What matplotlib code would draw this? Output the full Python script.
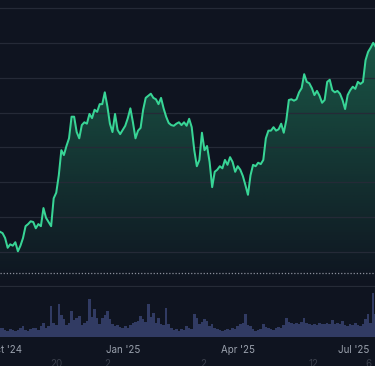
"""Price area chart with volume pane, dark theme."""
import matplotlib
matplotlib.use("Agg")
import matplotlib.pyplot as plt
import matplotlib.dates as mdates
import matplotlib.transforms as mtransforms
import numpy as np
import pandas as pd

# price sampled every 2 days from 2024-09-27
price = [0.229, 0.227, 0.220, 0.206, 0.211, 0.209, 0.214, 0.201, 0.209, 0.220,
         0.237, 0.240, 0.244, 0.243, 0.234, 0.240, 0.237, 0.263, 0.249, 0.243,
         0.237, 0.277, 0.285, 0.310, 0.346, 0.339, 0.352, 0.363, 0.394, 0.394,
         0.372, 0.363, 0.382, 0.386, 0.384, 0.398, 0.392, 0.404, 0.401, 0.412,
         0.412, 0.429, 0.409, 0.384, 0.372, 0.398, 0.375, 0.369, 0.375, 0.381,
         0.392, 0.406, 0.386, 0.363, 0.374, 0.378, 0.404, 0.421, 0.424, 0.427,
         0.421, 0.419, 0.412, 0.421, 0.406, 0.394, 0.385, 0.382, 0.381, 0.384,
         0.386, 0.382, 0.386, 0.381, 0.391, 0.379, 0.346, 0.323, 0.332, 0.371,
         0.346, 0.352, 0.329, 0.293, 0.315, 0.318, 0.323, 0.320, 0.332, 0.325,
         0.336, 0.329, 0.315, 0.323, 0.318, 0.309, 0.296, 0.282, 0.310, 0.325,
         0.323, 0.328, 0.326, 0.332, 0.363, 0.374, 0.374, 0.379, 0.374, 0.376,
         0.384, 0.371, 0.389, 0.418, 0.419, 0.417, 0.419, 0.429, 0.435, 0.455,
         0.444, 0.442, 0.435, 0.425, 0.431, 0.424, 0.414, 0.418, 0.444, 0.447,
         0.432, 0.429, 0.431, 0.427, 0.418, 0.405, 0.425, 0.432, 0.437, 0.434,
         0.444, 0.441, 0.444, 0.475, 0.487, 0.493, 0.500, 0.494]
volume_m = [9, 9, 7, 6, 8, 7, 6, 7, 9, 11,
            7, 6, 8, 9, 9, 7, 11, 14, 9, 11,
            31, 14, 12, 33, 22, 18, 12, 14, 26, 17,
            19, 21, 12, 14, 16, 38, 20, 28, 19, 13,
            19, 22, 26, 18, 13, 11, 12, 10, 9, 11,
            9, 12, 14, 15, 16, 21, 18, 15, 33, 20,
            24, 14, 19, 13, 12, 29, 13, 9, 7, 8,
            6, 8, 7, 11, 9, 8, 23, 19, 13, 15,
            18, 16, 11, 13, 9, 8, 7, 6, 7, 8,
            7, 9, 8, 11, 13, 14, 23, 12, 11, 8,
            6, 7, 8, 13, 10, 9, 8, 7, 9, 10,
            9, 12, 19, 15, 14, 13, 14, 13, 15, 19,
            14, 13, 12, 13, 12, 14, 13, 13, 14, 13,
            17, 13, 14, 13, 16, 12, 11, 13, 12, 14,
            12, 11, 13, 18, 23, 14, 44, 23]
ref_price = 0.170
tick_dates = ["2024-10-01", "2025-01-01", "2025-04-01", "2025-07-01"]
tick_labels = ["Oct '24", "Jan '25", "Apr '25", "Jul '25"]
nav_dates = ["2024-11-10", "2024-12-20", "2025-03-05", "2025-05-30", "2025-07-12"]
nav_labels = ["20", "2", "2", "12", "6"]

BG = "#0f1420"
GRID = "#252a37"
LINE = "#38d596"
VOL = "#313b63"

plt.rcParams["font.family"] = ["Inter", "DejaVu Sans"]

dates = pd.date_range("2024-09-27", periods=len(price), freq="2D")
x = mdates.date2num(dates)
x0 = mdates.date2num(pd.Timestamp("2024-09-27"))
x1 = x0 + 293.4

W, H = 375, 366
fig = plt.figure(figsize=(W / 100, H / 100), dpi=100, facecolor=BG)
ax = fig.add_axes([0, (H - 286) / H, 1, 286 / H], facecolor=BG)
vax = fig.add_axes([0, (H - 337) / H, 1, 50 / H], facecolor=BG, sharex=ax)

ylo, yhi = 0.1512, 0.5614
ax.set_ylim(ylo, yhi)
ax.set_xlim(x0, x1)
ax.set_yticks(np.arange(0.20, 0.56, 0.05))
ax.grid(axis="y", color=GRID, lw=0.9)
ax.tick_params(left=False, bottom=False, labelleft=False, labelbottom=False)
for s in ["top", "left", "right"]:
    ax.spines[s].set_visible(False)
ax.spines["bottom"].set_color("#262b37")
ax.spines["bottom"].set_linewidth(0.9)

# gradient area under the line
n = 256
grad = np.zeros((n, 1, 4))
grad[:, 0, 0] = 46 / 255
grad[:, 0, 1] = 204 / 255
grad[:, 0, 2] = 138 / 255
grad[:, 0, 3] = np.linspace(0.42, 0.0, n)
im = ax.imshow(grad, extent=[x0, x1, ylo, yhi], aspect="auto", origin="upper", zorder=1)
poly = ax.fill_between(x, price, ylo, facecolor="none", edgecolor="none")
im.set_clip_path(poly.get_paths()[0], transform=ax.transData)
ax.plot(x, price, color=LINE, lw=1.45, zorder=3, solid_joinstyle="round")
ax.axhline(ref_price, color="#8b909c", lw=0.9, ls=(0, (1, 1.5)), zorder=2)

vax.bar(x, volume_m, width=2.0, color=VOL, linewidth=0)
vax.set_ylim(0, 50)
for s in vax.spines.values():
    s.set_visible(False)
vax.tick_params(left=False, labelleft=False, length=0, pad=6, labelsize=7,
                labelcolor="#9aa1ad")
vax.set_xticks(mdates.date2num(pd.to_datetime(tick_dates)))
vax.set_xticklabels(tick_labels)

trans = mtransforms.blended_transform_factory(vax.transData, fig.transFigure)
for d, lab in zip(pd.to_datetime(nav_dates), nav_labels):
    vax.text(mdates.date2num(d), (H - 359) / H, lab, transform=trans, ha="center",
             va="top", fontsize=7, color="#3a3f4b", clip_on=False)

fig.savefig("out.png", dpi=100, facecolor=BG)
